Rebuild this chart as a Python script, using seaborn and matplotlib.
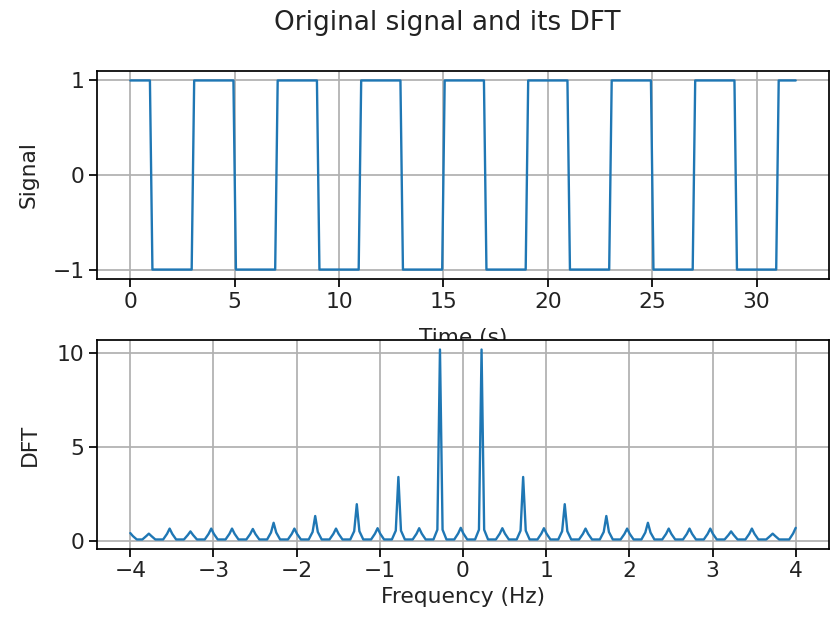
import matplotlib
matplotlib.use("Agg")
import matplotlib.pyplot as plt
import seaborn as sns
import pandas as pd

# Square wave: vertex times (s) and levels of the sampled signal
signal_time = [0.0, 0.94, 1.06, 2.94, 3.06, 4.94, 5.06, 6.94, 7.06, 8.94, 9.06,
               10.94, 11.06, 12.94, 13.06, 14.94, 15.06, 16.94, 17.06, 18.94, 19.06,
               20.94, 21.06, 22.94, 23.06, 24.94, 25.06, 26.94, 27.06, 28.94, 29.06,
               30.94, 31.06, 31.875]
signal_level = [1, 1, -1, -1, 1, 1, -1, -1, 1, 1, -1,
                -1, 1, 1, -1, -1, 1, 1, -1, -1, 1,
                1, -1, -1, 1, 1, -1, -1, 1, 1, -1,
                -1, 1, 1]

# DFT magnitude: spectral peaks (Hz), their heights, the first-bin flank values
peak_freq = [-4.0, -3.777, -3.527, -3.277, -3.027, -2.777, -2.527, -2.277, -2.027,
             -1.777, -1.527, -1.277, -1.027, -0.777, -0.527, -0.277, -0.027,
             0.223, 0.473, 0.723, 0.973, 1.223, 1.473, 1.723, 1.973,
             2.223, 2.473, 2.723, 2.973, 3.223, 3.473, 3.723, 4.0]
peak_mag = [0.42, 0.39, 0.66, 0.51, 0.66, 0.66, 0.64, 0.97, 0.66,
            1.33, 0.66, 1.96, 0.68, 3.41, 0.68, 10.2, 0.70,
            10.2, 0.68, 3.41, 0.68, 1.96, 0.66, 1.33, 0.66,
            0.97, 0.66, 0.66, 0.66, 0.51, 0.66, 0.39, 0.70]
flank_mag = [0.26, 0.26, 0.38, 0.32, 0.38, 0.38, 0.37, 0.45, 0.38,
             0.48, 0.38, 0.52, 0.39, 0.55, 0.39, 0.60, 0.40,
             0.60, 0.39, 0.55, 0.39, 0.52, 0.38, 0.48, 0.38,
             0.45, 0.38, 0.38, 0.38, 0.32, 0.38, 0.26, 0.40]
# Floor of the spectrum between neighbouring peaks
trough_mag = [0.08] * 32
bin_width = 1 / 32  # frequency resolution (Hz)

# Assemble the spectrum polyline
freqs, mags = [], []
n_peaks = len(peak_freq)
for i in range(n_peaks):
    f0 = peak_freq[i]
    if i > 0:
        freqs.append(f0 - bin_width)
        mags.append(flank_mag[i])
    freqs.append(f0)
    mags.append(peak_mag[i])
    if i < n_peaks - 1:
        freqs += [f0 + bin_width, f0 + 2.5 * bin_width,
                  peak_freq[i + 1] - 2.5 * bin_width]
        mags += [flank_mag[i], trough_mag[i], trough_mag[i]]
spectrum = pd.DataFrame({"freq": freqs, "mag": mags})
signal = pd.DataFrame({"time": signal_time, "level": signal_level})

sns.set_theme(style="ticks", rc={
    "axes.edgecolor": "black",
    "axes.linewidth": 1.25,
    "axes.grid": True,
    "grid.color": "#b0b0b0",
    "grid.linewidth": 1.25,
    "xtick.major.size": 5.5,
    "ytick.major.size": 5.5,
    "xtick.major.width": 1.25,
    "ytick.major.width": 1.25,
    "xtick.color": "black",
    "ytick.color": "black",
    "xtick.labelcolor": "#222222",
    "ytick.labelcolor": "#222222",
    "text.color": "#222222",
    "axes.labelcolor": "#222222",
    "font.size": 15.7,
    "axes.labelsize": 15.7,
    "xtick.labelsize": 15.7,
    "ytick.labelsize": 15.7,
})
plt.rcParams["font.family"] = ["DejaVu Sans"]

fig = plt.figure(figsize=(8.35, 6.18), dpi=100)
ax1 = fig.add_axes([0.1162, 0.5485, 0.8766, 0.3366])
ax2 = fig.add_axes([0.1162, 0.1117, 0.8766, 0.3381])

line_color = "#1f77b4"
sns.lineplot(data=signal, x="time", y="level", ax=ax1, color=line_color,
             linewidth=1.7, estimator=None, sort=False)
ax1.set_xticks([0, 5, 10, 15, 20, 25, 30])
ax1.set_yticks([-1, 0, 1])
ax1.set_xlabel("Time (s)", labelpad=12)
ax1.set_ylabel("Signal", labelpad=10)

sns.lineplot(data=spectrum, x="freq", y="mag", ax=ax2, color=line_color,
             linewidth=1.7, estimator=None, sort=False)
ax2.set_xlim(-4.4, 4.4)
ax2.set_xticks([-4, -3, -2, -1, 0, 1, 2, 3, 4])
ax2.set_yticks([0, 5, 10])
ax2.set_xlabel("Frequency (Hz)")
ax2.set_ylabel("DFT", labelpad=12)

for ax in (ax1, ax2):
    ax.grid(True)
    ax.set_axisbelow(True)
    for side in ("top", "right", "left", "bottom"):
        ax.spines[side].set_visible(True)

fig.suptitle("Original signal and its DFT", x=0.536, y=0.962, va="center",
             fontsize=18.9)

fig.savefig("out.png", dpi=100)
